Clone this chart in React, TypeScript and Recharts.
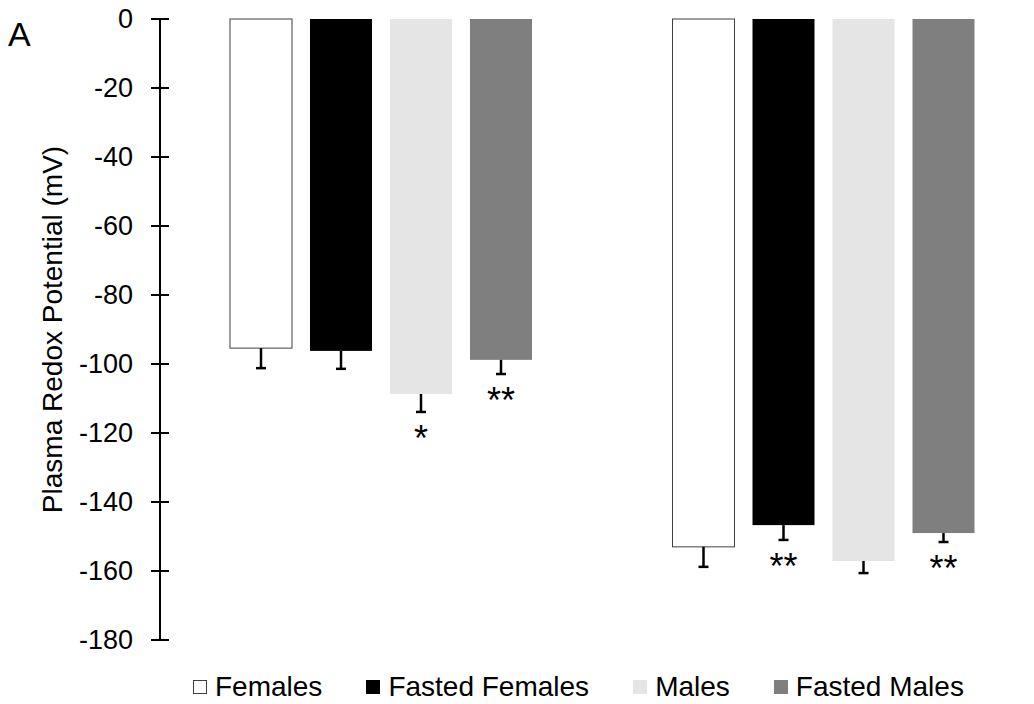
import { BarChart, Bar, XAxis, YAxis, Legend, Label } from 'recharts';

// two groups of bars, no category labels in the figure
const groups = ['Group 1', 'Group 2'];

const females = [-95.4, -153.0];
const femalesErr = [5.8, 5.8];
const femalesSig = ['', ''];

const fastedFemales = [-96.2, -146.7];
const fastedFemalesErr = [5.2, 4.3];
const fastedFemalesSig = ['', '**'];

const males = [-108.7, -157.1];
const malesErr = [5.2, 3.5];
const malesSig = ['*', ''];

const fastedMales = [-98.8, -149.0];
const fastedMalesErr = [4.1, 2.6];
const fastedMalesSig = ['**', '**'];

const yTicks = [0, -20, -40, -60, -80, -100, -120, -140, -160, -180];

const data = groups.map((g, i) => ({
  group: g,
  females: females[i],
  femalesErr: femalesErr[i],
  femalesSig: femalesSig[i],
  fastedFemales: fastedFemales[i],
  fastedFemalesErr: fastedFemalesErr[i],
  fastedFemalesSig: fastedFemalesSig[i],
  males: males[i],
  malesErr: malesErr[i],
  malesSig: malesSig[i],
  fastedMales: fastedMales[i],
  fastedMalesErr: fastedMalesErr[i],
  fastedMalesSig: fastedMalesSig[i],
}));

const SERIES = [
  { key: 'females', label: 'Females', fill: '#ffffff', stroke: '#404040' },
  { key: 'fastedFemales', label: 'Fasted Females', fill: '#000000', stroke: '' },
  { key: 'males', label: 'Males', fill: '#e6e5e6', stroke: '' },
  { key: 'fastedMales', label: 'Fasted Males', fill: '#7f7f7f', stroke: '' },
];

const FONT = '"Liberation Sans", Arial, sans-serif';
const TICK_SIZE = 9;
const TICK_MARGIN = 18;

const makeShape = (key: string, fill: string, stroke: string) => (props: any) => {
  const { x, y, width, height, payload } = props;
  const value = payload[key];
  const err = payload[key + 'Err'];
  const sig = payload[key + 'Sig'];
  const top = Math.min(y, y + height);
  const h = Math.abs(height);
  const pxPerUnit = h / Math.abs(value);
  const end = top + h;
  const errEnd = end + err * pxPerUnit;
  const cx = x + width / 2;
  return (
    <g>
      <rect
        x={x}
        y={top}
        width={width}
        height={h}
        fill={fill}
        stroke={stroke || 'none'}
        strokeWidth={stroke ? 1 : 0}
      />
      <line x1={cx} x2={cx} y1={end} y2={errEnd} stroke="#000" strokeWidth={2.5} />
      <line x1={cx - 5} x2={cx + 5} y1={errEnd} y2={errEnd} stroke="#000" strokeWidth={2.5} />
      {sig && (
        <text x={cx} y={errEnd + 39} textAnchor="middle" fontSize={36} fontFamily={FONT} fill="#000">
          {sig}
        </text>
      )}
    </g>
  );
};

const YTick = (props: any) => {
  const { x, y, payload } = props;
  const axisX = x + TICK_MARGIN + TICK_SIZE;
  return (
    <g>
      <line x1={axisX} x2={axisX + TICK_SIZE} y1={y} y2={y} stroke="#000" strokeWidth={2} />
      <text
        x={x}
        y={y}
        textAnchor="end"
        dominantBaseline="central"
        fontSize={27}
        fontFamily={FONT}
        fill="#000"
      >
        {payload.value}
      </text>
    </g>
  );
};

const renderYLabel = (props: any) => {
  const { viewBox } = props;
  const cy = viewBox.y + viewBox.height / 2;
  const bx = 62;
  return (
    <text
      x={bx}
      y={cy}
      transform={`rotate(-90, ${bx}, ${cy})`}
      textAnchor="middle"
      fontSize={28}
      fontFamily={FONT}
      fill="#000"
    >
      Plasma Redox Potential (mV)
    </text>
  );
};

const renderLegend = () => (
  <div style={{ display: 'flex', alignItems: 'center', fontFamily: FONT, fontSize: 28, lineHeight: 1 }}>
    {SERIES.map((s) => (
      <div key={s.key} style={{ display: 'flex', alignItems: 'center', marginRight: 44 }}>
        <span
          style={{
            display: 'inline-block',
            width: 14,
            height: 14,
            boxSizing: 'border-box',
            background: s.fill,
            border: s.stroke ? `1px solid ${s.stroke}` : 'none',
            marginRight: 8,
          }}
        />
        <span style={{ color: '#000', whiteSpace: 'nowrap' }}>{s.label}</span>
      </div>
    ))}
  </div>
);

export default function App() {
  return (
    <div
      style={{
        position: 'absolute',
        left: 0,
        top: 0,
        width: 1034,
        height: 704,
        overflow: 'hidden',
        background: '#fff',
      }}
    >
      <div
        style={{
          position: 'absolute',
          left: 8,
          top: 17,
          fontFamily: FONT,
          fontSize: 34,
          lineHeight: 1,
          color: '#000',
        }}
      >
        A
      </div>
      <BarChart
        width={1050}
        height={704}
        data={data}
        margin={{ top: 19, right: 5, bottom: 64, left: 0 }}
        barSize={62}
        barGap={18}
      >
        <XAxis
          dataKey="group"
          orientation="top"
          height={0}
          tick={false}
          tickLine={false}
          axisLine={{ stroke: '#000', strokeWidth: 2 }}
        />
        <YAxis
          width={160}
          domain={[-180, 0]}
          ticks={yTicks}
          interval={0}
          tickSize={TICK_SIZE}
          tickMargin={TICK_MARGIN}
          tick={<YTick />}
          tickLine={{ stroke: '#000', strokeWidth: 2 }}
          axisLine={{ stroke: '#000', strokeWidth: 2 }}
        >
          <Label content={renderYLabel} />
        </YAxis>
        <Legend
          layout="horizontal"
          verticalAlign="middle"
          align="center"
          content={renderLegend}
          wrapperStyle={{ top: 673, left: 193, width: 'auto' }}
        />
        {SERIES.map((s) => (
          <Bar
            key={s.key}
            dataKey={s.key}
            name={s.label}
            fill={s.fill}
            shape={makeShape(s.key, s.fill, s.stroke)}
            isAnimationActive={false}
          />
        ))}
      </BarChart>
    </div>
  );
}
